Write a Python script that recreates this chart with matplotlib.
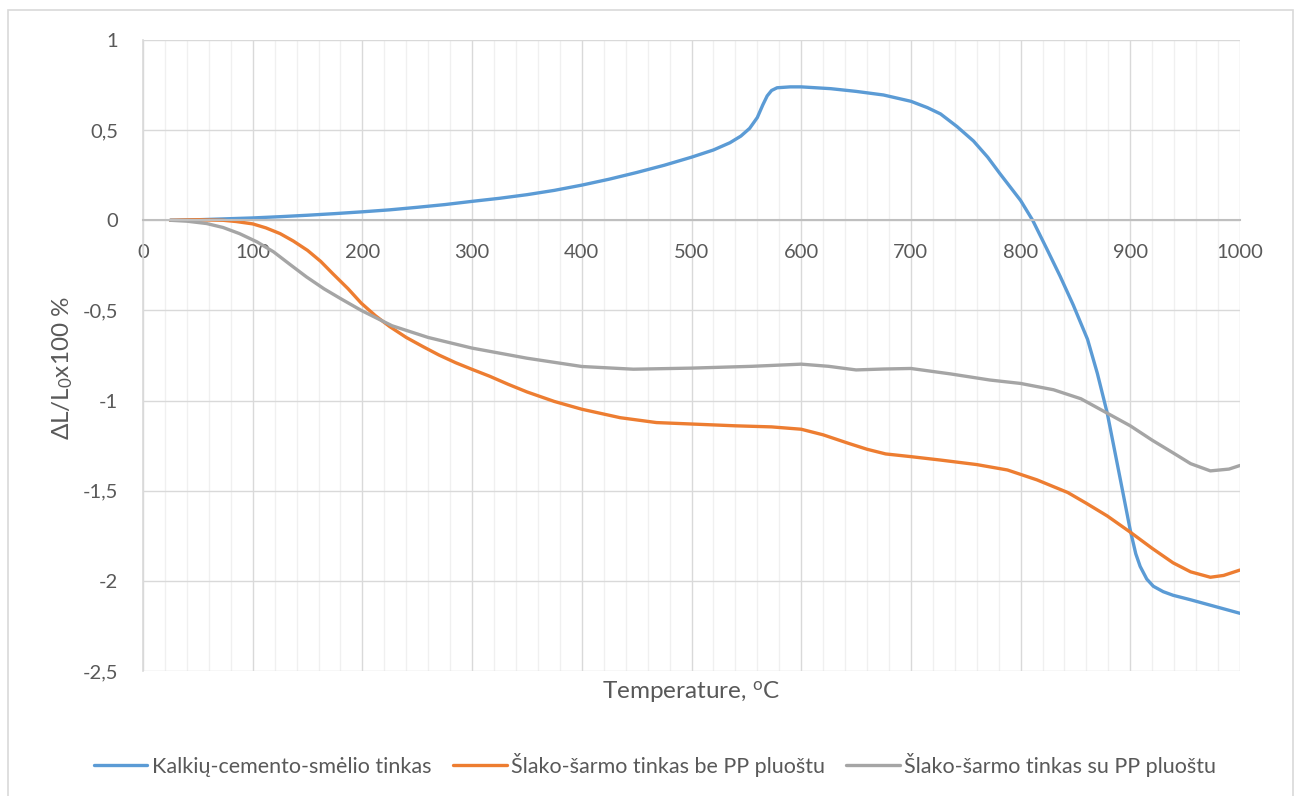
import matplotlib
matplotlib.use("Agg")
import matplotlib.pyplot as plt
from matplotlib.ticker import MultipleLocator, FuncFormatter
from matplotlib.patches import Rectangle

plt.rcParams['font.family'] = ['Lato', 'DejaVu Sans']
plt.rcParams['mathtext.fontset'] = 'custom'
plt.rcParams['mathtext.rm'] = 'Lato'
plt.rcParams['mathtext.it'] = 'Lato:italic'
plt.rcParams['mathtext.bf'] = 'Lato:bold'
plt.rcParams['mathtext.fallback'] = 'stixsans'

# Kalkių-cemento-smėlio tinkas
t_kalk = [25, 50, 75, 100, 125, 150, 175, 200, 225, 250, 275, 300, 325, 350, 375,
          400, 425, 450, 475, 500, 520, 535, 545, 553, 560, 565, 569, 573, 578,
          590, 600, 627, 650, 675, 700, 715, 727, 742, 757, 770, 781, 800, 811,
          824, 836, 848, 861, 870, 879, 891, 900, 905, 909, 915, 921, 930, 939,
          955, 970, 985, 1000]
v_kalk = [0, 0.003, 0.008, 0.013, 0.02, 0.028, 0.037, 0.047, 0.058, 0.072, 0.087,
          0.105, 0.122, 0.142, 0.166, 0.195, 0.228, 0.265, 0.305, 0.35, 0.39, 0.43,
          0.467, 0.51, 0.57, 0.64, 0.69, 0.72, 0.735, 0.74, 0.74, 0.73, 0.715,
          0.695, 0.66, 0.625, 0.59, 0.52, 0.44, 0.35, 0.26, 0.11, 0.0, -0.16,
          -0.31, -0.47, -0.66, -0.85, -1.07, -1.44, -1.72, -1.85, -1.92, -1.99,
          -2.03, -2.06, -2.08, -2.105, -2.13, -2.155, -2.18]

# Šlako-šarmo tinkas be PP pluoštu
t_be = [25, 50, 73, 85, 100, 112, 125, 137, 150, 162, 173, 187, 199, 212, 225,
        240, 255, 270, 285, 300, 316, 333, 350, 375, 400, 435, 468, 500, 540, 573,
        600, 620, 643, 660, 677, 700, 727, 760, 788, 815, 843, 860, 879, 900, 920,
        939, 955, 973, 985, 1000]
v_be = [0, 0.003, 0.0, -0.007, -0.02, -0.042, -0.074, -0.115, -0.167, -0.228,
        -0.296, -0.38, -0.46, -0.53, -0.59, -0.65, -0.70, -0.748, -0.79, -0.827,
        -0.865, -0.91, -0.952, -1.005, -1.048, -1.095, -1.122, -1.13, -1.14,
        -1.146, -1.159, -1.19, -1.237, -1.27, -1.296, -1.311, -1.33, -1.355,
        -1.385, -1.44, -1.51, -1.57, -1.64, -1.73, -1.82, -1.90, -1.95, -1.98,
        -1.97, -1.94]

# Šlako-šarmo tinkas su PP pluoštu
t_su = [25, 40, 58, 73, 88, 104, 119, 134, 149, 165, 180, 199, 227, 260, 300, 350,
        400, 447, 500, 555, 600, 625, 650, 675, 700, 736, 772, 800, 830, 855, 873,
        900, 920, 939, 955, 973, 990, 1000]
v_su = [0, -0.005, -0.018, -0.04, -0.074, -0.12, -0.175, -0.245, -0.314, -0.38,
        -0.434, -0.5, -0.585, -0.65, -0.709, -0.765, -0.811, -0.826, -0.82, -0.81,
        -0.798, -0.81, -0.83, -0.825, -0.822, -0.852, -0.886, -0.905, -0.94,
        -0.99, -1.05, -1.14, -1.22, -1.29, -1.35, -1.39, -1.38, -1.36]

serijos = [
    ("Kalkių-cemento-smėlio tinkas", t_kalk, v_kalk, "#5B9BD5"),
    ("Šlako-šarmo tinkas be PP pluoštu", t_be, v_be, "#ED7D31"),
    ("Šlako-šarmo tinkas su PP pluoštu", t_su, v_su, "#A5A5A5"),
]

tekstas = "#595959"

fig = plt.figure(figsize=(13, 7.96), dpi=100)
ax = fig.add_axes([143/1300, 1 - 671/796, 1097/1300, 631/796])

for pav, t, v, spalva in serijos:
    ax.plot(t, v, color=spalva, linewidth=2.4, label=pav,
            solid_capstyle='round', solid_joinstyle='round')

ax.set_xlim(0, 1000)
ax.set_ylim(-2.5, 1)
ax.xaxis.set_major_locator(MultipleLocator(100))
ax.xaxis.set_minor_locator(MultipleLocator(20))
ax.yaxis.set_major_locator(MultipleLocator(0.5))
ax.yaxis.set_major_formatter(FuncFormatter(lambda v, p: f"{v:g}".replace('.', ',')))

ax.grid(which='major', color='#d9d9d9', linewidth=1.0, zorder=0)
ax.grid(which='minor', axis='x', color='#f0f0f0', linewidth=1.0, zorder=0)
ax.set_axisbelow(True)

for s in ['top', 'right']:
    ax.spines[s].set_visible(False)
ax.spines['bottom'].set_position(('data', 0))
ax.spines['bottom'].set_color('#bfbfbf')
ax.spines['bottom'].set_linewidth(1.5)
ax.spines['left'].set_color('#d9d9d9')
ax.spines['left'].set_linewidth(1.2)

ax.tick_params(axis='both', which='both', length=0, labelsize=14.5, labelcolor=tekstas)
ax.tick_params(axis='x', pad=17)
ax.tick_params(axis='y', pad=18)

ax.set_ylabel("ΔL/L$_0$x100 %", fontsize=17.5, color=tekstas)
ax.yaxis.set_label_coords(-68/1097, 0.48)
fig.text(691/1300, 1 - 692/796, "Temperature, $^{\\mathrm{o}}$C", fontsize=17.5,
         color=tekstas, ha='center', va='center')

fig.legend(loc='center', bbox_to_anchor=(655/1300, 1 - 765/796), ncol=3,
           frameon=False, fontsize=15.5, labelcolor=tekstas, handlelength=2.5,
           handletextpad=0.2, columnspacing=1.0)

fig.add_artist(Rectangle((8/1300, -0.02), 1285/1300, 1 - 10/796 + 0.02,
                         transform=fig.transFigure, fill=False,
                         edgecolor='#d9d9d9', linewidth=1.2))

fig.savefig("out.png", dpi=100)
